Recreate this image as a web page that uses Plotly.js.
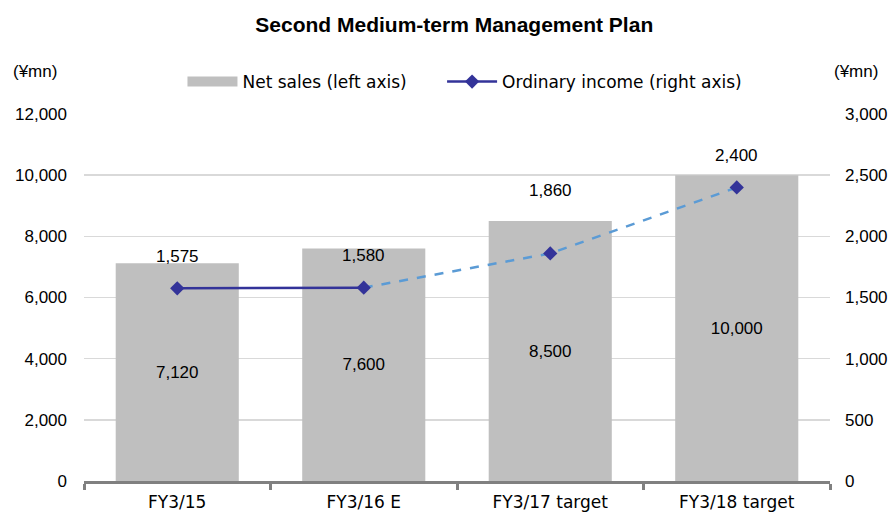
<!DOCTYPE html>
<html><head><meta charset="utf-8">
<script src="https://cdn.plot.ly/plotly-3.0.1.min.js"></script>
<style>body{margin:0;background:#fff}#c{width:896px;height:513px}</style>
</head><body><div id="c"></div>
<script>
const categories = ["FY3/15", "FY3/16 E", "FY3/17 target", "FY3/18 target"];
const netSales = [7120, 7600, 8500, 10000];
const ordinaryIncome = [1575, 1580, 1860, 2400];
const leftTicks = [0, 2000, 4000, 6000, 8000, 10000, 12000];
const rightTicks = [0, 500, 1000, 1500, 2000, 2500, 3000];
const actualCount = 2; // first two points are actual/estimate (solid line)
const labelShift = [32, 32, 63, 32];

const FONT = "Liberation Sans, Arial, sans-serif";
const WFONT = "DejaVu Sans, Liberation Sans, sans-serif";
const fmt = v => v.toLocaleString("en-US");

const traces = [
  {type: "bar", x: categories, y: netSales, name: "Net sales (left axis)", showlegend: false,
   marker: {color: "#bfbfbf"}, width: 0.66,
   text: netSales.map(fmt), textposition: "inside", insidetextanchor: "middle",
   textfont: {family: FONT, size: 17, color: "#000"}, hoverinfo: "skip"},
  // legend swatch for the bars (draws nothing in the plot)
  {type: "scatter", mode: "lines", x: categories, y: categories.map(() => null), legend: "legend",
   name: "Net sales (left axis)", line: {color: "#bfbfbf", width: 10}},
  {type: "scatter", mode: "lines", x: categories.slice(actualCount - 1), y: ordinaryIncome.slice(actualCount - 1),
   yaxis: "y2", line: {color: "#5b9bd5", width: 2.5, dash: "dash"}, showlegend: false},
  {type: "scatter", mode: "lines+markers", x: categories.slice(0, actualCount), y: ordinaryIncome.slice(0, actualCount),
   yaxis: "y2", name: "Ordinary income (right axis)", legend: "legend2",
   line: {color: "#333399", width: 2.5}, marker: {symbol: "diamond", size: 11, color: "#333399"}},
  {type: "scatter", mode: "markers", x: categories.slice(actualCount), y: ordinaryIncome.slice(actualCount),
   yaxis: "y2", marker: {symbol: "diamond", size: 11, color: "#333399"}, showlegend: false}
];

const annotations = ordinaryIncome.map((v, i) => ({
  x: categories[i], y: v, xref: "x", yref: "y2", text: fmt(v), showarrow: false,
  yshift: labelShift[i], font: {family: FONT, size: 17, color: "#000"}
}));
annotations.push({xref: "paper", yref: "paper", x: -0.066, y: 1.115, xanchor: "center", yanchor: "middle",
  text: "(¥mn)", showarrow: false, font: {family: FONT, size: 17, color: "#000"}});
annotations.push({xref: "paper", yref: "paper", x: 1.035, y: 1.115, xanchor: "center", yanchor: "middle",
  text: "(¥mn)", showarrow: false, font: {family: FONT, size: 17, color: "#000"}});

const legendBase = {orientation: "h", xanchor: "left", y: 1.087, yanchor: "middle",
  font: {family: WFONT, size: 17}, itemwidth: 50, bgcolor: "rgba(0,0,0,0)"};

const layout = {
  width: 896, height: 513,
  margin: {l: 84, r: 66, t: 114, b: 32},
  paper_bgcolor: "#fff", plot_bgcolor: "#fff",
  font: {family: FONT, size: 16, color: "#000"},
  title: {text: "<b>Second Medium-term Management Plan</b>", x: 0.507, xanchor: "center", y: 0.951, yanchor: "middle",
          font: {family: FONT, size: 21, color: "#000"}},
  showlegend: true,
  legend: Object.assign({}, legendBase, {x: 0.132}),
  legend2: Object.assign({}, legendBase, {x: 0.480}),
  bargap: 0.34,
  xaxis: {type: "category", showline: true, linecolor: "#808080", linewidth: 3,
          ticks: "outside", tickson: "boundaries", ticklen: 6, tickwidth: 3, tickcolor: "#808080",
          ticklabelstandoff: 4, tickfont: {family: WFONT, size: 17}, showgrid: false, zeroline: false},
  yaxis: {range: [0, 12000], tickvals: leftTicks, ticktext: leftTicks.map(fmt),
          showgrid: true, gridcolor: "#d9d9d9", gridwidth: 1.5, zeroline: false, showline: false,
          ticks: "", ticklabelstandoff: 16, tickfont: {family: FONT, size: 17}},
  yaxis2: {range: [0, 3000], overlaying: "y", side: "right", tickvals: rightTicks, ticktext: rightTicks.map(fmt),
           showgrid: false, zeroline: false, showline: false, ticks: "", ticklabelstandoff: 14,
           tickfont: {family: FONT, size: 17}},
  annotations: annotations
};

Plotly.newPlot("c", traces, layout, {displayModeBar: false, staticPlot: true});
</script></body></html>
